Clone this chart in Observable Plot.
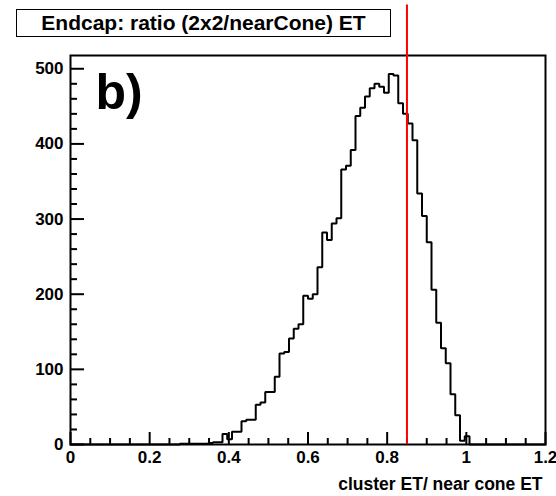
<!DOCTYPE html>
<html><head><meta charset="utf-8">
<script src="https://cdn.jsdelivr.net/npm/d3@7"></script>
<script src="https://cdn.jsdelivr.net/npm/@observablehq/plot@0.6"></script>
<style>
body{margin:0;background:#fff;}
#wrap{position:relative;width:556px;height:496px;font-family:"Liberation Sans",Arial,Helvetica,sans-serif;}
#title{position:absolute;left:16px;top:9px;width:373px;height:26px;border:1.5px solid #000;font-weight:bold;font-size:21px;line-height:26px;padding-left:0;text-align:center;background:#fff;white-space:nowrap;z-index:2;}
#wrap svg{position:absolute;left:0;top:0;overflow:visible;}
</style></head><body>
<div id="wrap"><div id="title"></div></div>
<script>
// ---- data ----
const title = "Endcap: ratio (2x2/nearCone) ET";
const xLabel = "cluster ET/ near cone ET";
const panelLabel = "b)";
const nBins = 100, xMin = 0, xMax = 1.2;   // histogram binning
const firstBin = 23;                        // index of the first entry in counts
const counts = [
  1, 1, 1, 1, 1, 1, 2, 3, 3,               // bins 23-31
  14, 7, 17, 17, 31, 33, 33, 53, 56, 70,   // bins 32-41
  70, 90, 121, 123, 141, 154, 160, 198, 194, 200, // 42-51
  236, 282, 272, 294, 301, 366, 371, 392, 437, 448, // 52-61
  463, 474, 480, 476, 468, 493, 491, 454, 440, 427, // 62-71
  405, 334, 304, 269, 206, 162, 128, 108, 67, 39,   // 72-81
  5, 11                                              // 82-83
];
const cutLine = {x: 0.85, y1: 0, y2: 585};
const xMajorTicks = [0, 0.2, 0.4, 0.6, 0.8, 1, 1.2];
const xTickLabels = ["0", "0.2", "0.4", "0.6", "0.8", "1", "1.2"];
const yMajorTicks = [0, 100, 200, 300, 400, 500];
const yTickLabels = ["0", "100", "200", "300", "400", "500"];

// ---- layout ----
const W = 556, H = 496, mL = 70, mR = 11, mT = 55, mB = 52;
const frameW = W - mL - mR, frameH = H - mT - mB;

// ---- derived ----
document.getElementById("title").textContent = title;
const binW = (xMax - xMin) / nBins;
const points = [];
for (let i = 0; i < nBins; i++) {
  const j = i - firstBin;
  points.push({x: xMin + i * binW, y: (j >= 0 && j < counts.length) ? counts[j] : 0});
}
points.push({x: xMax, y: 0});
const yMax = 1.05 * d3.max(counts);
const xMinorTicks = d3.range(0, 25).map(k => k * 0.05).filter(v => v <= xMax + 1e-9 && Math.abs(v / 0.2 - Math.round(v / 0.2)) > 1e-6);
const yMinorTicks = d3.range(1, 26).map(k => k * 20).filter(v => v < yMax && v % 100 !== 0);
const xLab = new Map(xMajorTicks.map((v, i) => [v, xTickLabels[i]]));
const yLab = new Map(yMajorTicks.map((v, i) => [v, yTickLabels[i]]));

const font = '"Liberation Sans", Arial, Helvetica, sans-serif';
const chart = Plot.plot({
  width: W, height: H,
  marginLeft: mL, marginRight: mR, marginTop: mT, marginBottom: mB,
  style: {fontFamily: font, background: "transparent", overflow: "visible"},
  x: {domain: [xMin, xMax], label: null},
  y: {domain: [0, yMax], label: null},
  marks: [
    Plot.line(points, {x: "x", y: "y", curve: "step-after", stroke: "#000", strokeWidth: 2, strokeLinejoin: "miter"}),
    // inward ticks on the bottom axis
    Plot.ruleX(xMajorTicks, {x: d => d, insetTop: frameH - 12, stroke: "#000", strokeWidth: 2}),
    Plot.ruleX(xMinorTicks, {x: d => d, insetTop: frameH - 6, stroke: "#000", strokeWidth: 2}),
    // inward ticks on the left axis
    Plot.ruleY(yMajorTicks, {y: d => d, insetRight: frameW - 14, stroke: "#000", strokeWidth: 2}),
    Plot.ruleY(yMinorTicks, {y: d => d, insetRight: frameW - 7, stroke: "#000", strokeWidth: 2}),
    Plot.frame({stroke: "#000", strokeWidth: 2}),
    Plot.axisX(xMajorTicks, {tickSize: 0, tickPadding: 6, tickFormat: d => xLab.get(d), label: null, fontSize: 17, fontWeight: "bold", fill: "#000"}),
    Plot.axisY(yMajorTicks, {tickSize: 0, tickPadding: 7, tickFormat: d => yLab.get(d), label: null, fontSize: 17, fontWeight: "bold", fill: "#000"}),
    Plot.ruleX([cutLine], {x: "x", y1: "y1", y2: "y2", stroke: "#ff0000", strokeWidth: 2, clip: false}),
    Plot.text([panelLabel], {frameAnchor: "top-left", dx: 25, dy: 53, lineAnchor: "bottom", textAnchor: "start", fontSize: 50, fontWeight: "bold", fill: "#000"}),
    Plot.text([xLabel], {frameAnchor: "bottom-right", dx: -3, dy: 45, lineAnchor: "bottom", textAnchor: "end", fontSize: 17.5, fontWeight: "bold", fill: "#000"})
  ]
});
document.getElementById("wrap").appendChild(chart);
</script>
</body></html>
